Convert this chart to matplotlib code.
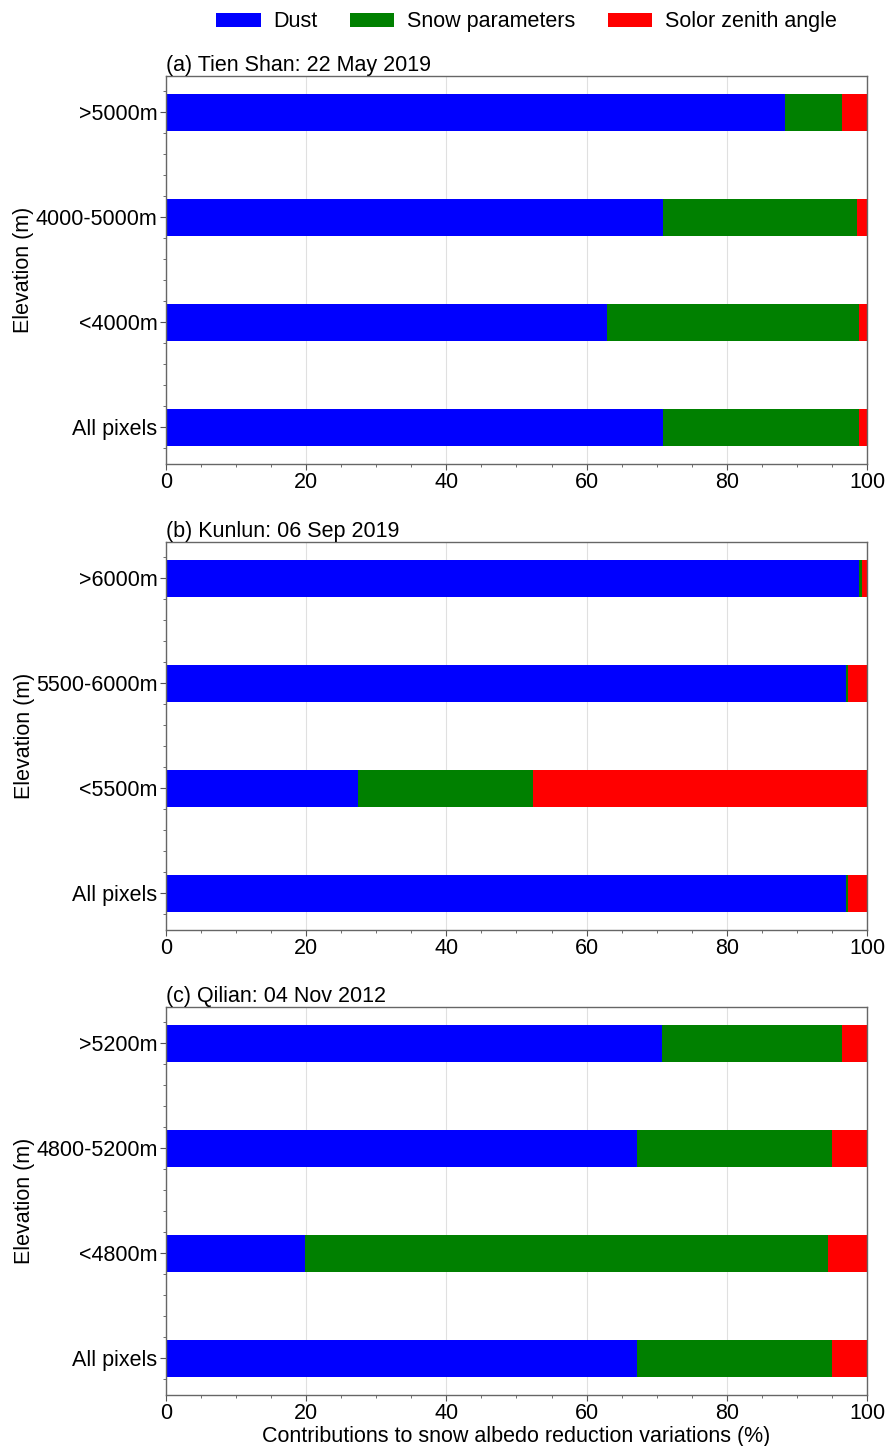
import numpy as np
import matplotlib
matplotlib.use('Agg')
import matplotlib.pyplot as plt
from matplotlib.ticker import AutoMinorLocator, MultipleLocator

plt.rcParams['font.family'] = ['Liberation Sans', 'DejaVu Sans']

titles = ['(a) Tien Shan: 22 May 2019', '(b) Kunlun: 06 Sep 2019', '(c) Qilian: 04 Nov 2012']
labels_a = ['All pixels', '<4000m', '4000-5000m', '>5000m']
labels_b = ['All pixels', '<5500m', '5500-6000m', '>6000m']
labels_c = ['All pixels', '<4800m', '4800-5200m', '>5200m']

# contributions (%), bottom-to-top order
dust_a = [70.9, 62.9, 70.9, 88.3]
snow_a = [27.9, 36.0, 27.7, 8.1]
sza_a = [1.2, 1.1, 1.4, 3.6]

dust_b = [97.0, 27.4, 97.0, 98.9]
snow_b = [0.3, 24.9, 0.3, 0.4]
sza_b = [2.7, 47.7, 2.7, 0.7]

dust_c = [67.2, 19.9, 67.2, 70.7]
snow_c = [27.8, 74.5, 27.8, 25.7]
sza_c = [5.0, 5.6, 5.0, 3.6]

series_names = ['Dust', 'Snow parameters', 'Solor zenith angle']
colors = ['#0000ff', '#008000', '#ff0000']

panels = [
    (titles[0], labels_a, [dust_a, snow_a, sza_a]),
    (titles[1], labels_b, [dust_b, snow_b, sza_b]),
    (titles[2], labels_c, [dust_c, snow_c, sza_c]),
]

fig = plt.figure(figsize=(8.87, 14.46), dpi=100)
bottoms = [0.6791, 0.3568, 0.0353]
fs = 15.5

handles = None
for (title, labels, data), b in zip(panels, bottoms):
    ax = fig.add_axes([0.1871, b, 0.7903, 0.2686])
    y = np.arange(len(labels))
    left = np.zeros(len(labels))
    hs = []
    for vals, c, name in zip(data, colors, series_names):
        h = ax.barh(y, vals, left=left, height=0.35, color=c, label=name, zorder=2)
        left = left + np.array(vals)
        hs.append(h)
    handles = hs
    ax.set_xlim(0, 100)
    ax.set_ylim(-0.35, 3.35)
    ax.set_yticks(y)
    ax.set_yticklabels(labels)
    ax.xaxis.set_major_locator(MultipleLocator(20))
    ax.xaxis.set_minor_locator(AutoMinorLocator(4))
    ax.yaxis.set_minor_locator(AutoMinorLocator(5))
    ax.grid(axis='x', color='#e0e0e0', linewidth=0.8, zorder=0)
    ax.tick_params(axis='both', which='major', labelsize=fs, length=4, color='#555555', pad=2)
    ax.tick_params(axis='both', which='minor', length=2, color='#555555')
    for s in ax.spines.values():
        s.set_color('#666666')
        s.set_linewidth(1.0)
    ax.set_title(title, loc='left', fontsize=fs, pad=2)
    ax.set_ylabel('Elevation (m)', fontsize=fs, labelpad=1)
    if b == bottoms[-1]:
        ax.set_xlabel('Contributions to snow albedo reduction variations (%)', fontsize=fs, labelpad=1)

fig.legend(handles, series_names, loc='center', bbox_to_anchor=(0.5936, 0.9848), ncol=3,
           frameon=False, fontsize=fs, handlelength=2.05, handleheight=0.65, columnspacing=1.5,
           handletextpad=0.6)

fig.savefig('out.png', dpi=100)
